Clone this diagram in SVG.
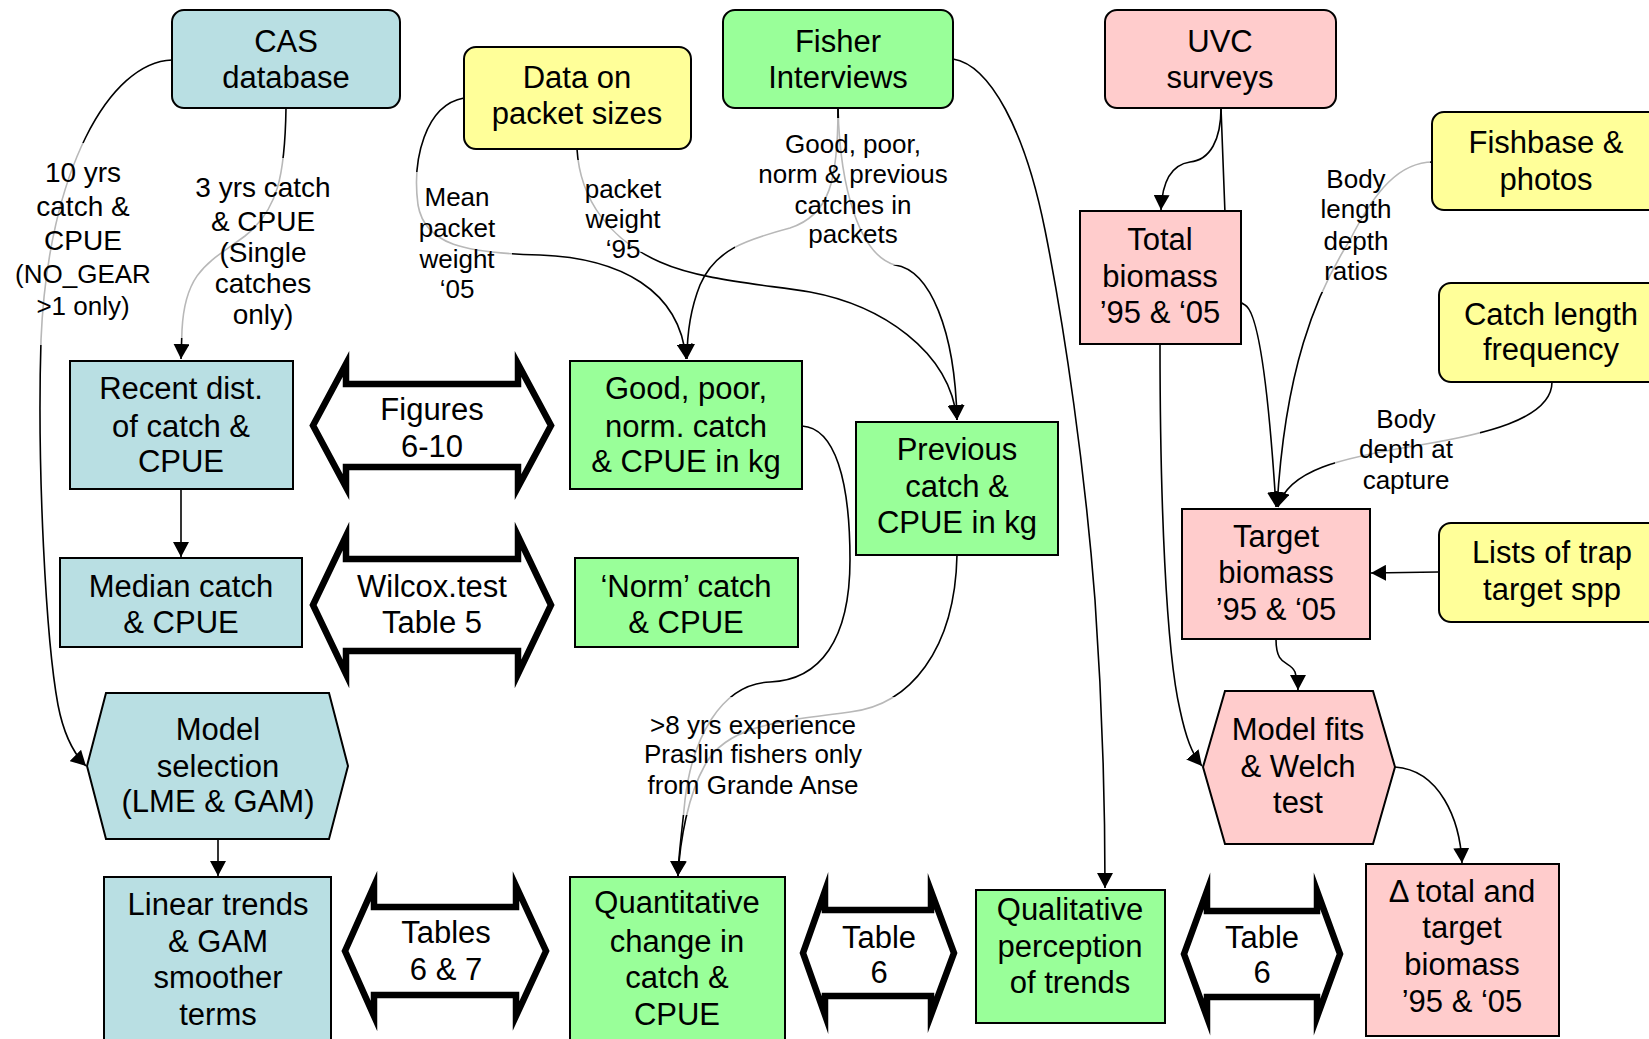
<svg xmlns="http://www.w3.org/2000/svg" width="1649" height="1039" viewBox="0 0 1649 1039">
<style>
text{font-family:"Liberation Sans",Arial,sans-serif;fill:#000;text-anchor:middle}
.nt{font-size:31px}
.lt{font-size:26px}
.lb{font-size:28px}
.blue{fill:#B9DFE3;stroke:#000;stroke-width:2}
.green{fill:#99FF99;stroke:#000;stroke-width:2}
.yellow{fill:#FFFF99;stroke:#000;stroke-width:2}
.pink{fill:#FFCCCC;stroke:#000;stroke-width:2}
.con{fill:none;stroke:#000;stroke-width:1.6}
.arr{marker-end:url(#ah)}
.dbl{fill:#fff;stroke:#000;stroke-width:6.5;stroke-linejoin:miter;stroke-miterlimit:10}
.lbg{fill:#fff;fill-opacity:0.72;stroke:none}
</style>
<defs>
<marker id="ah" markerUnits="userSpaceOnUse" markerWidth="16" markerHeight="16" refX="15" refY="8" orient="auto">
<path d="M0,0 L15,8 L0,16 z" fill="#000"/>
</marker>
</defs>
<rect x="0" y="0" width="1649" height="1039" fill="#fff"/>

<g id="connectors">
<path class="con arr" d="M172,60 C110,62 48,170 41,340 C37,470 46,640 58,705 C64,736 74,754 86,766"/>
<path class="con arr" d="M286,108 C285,175 278,210 245,236 C210,262 185,270 182,330 L181,359"/>
<path class="con arr" d="M181,489 L181,557"/>
<path class="con arr" d="M218,839 L218,876"/>
<path class="con arr" d="M464,98 C425,105 412,160 418,205 C425,245 465,253 540,255 C620,258 680,290 686,359"/>
<path class="con arr" d="M577,149 C580,200 610,240 660,262 C700,280 760,284 810,292 C880,305 950,350 957,420"/>
<path class="con arr" d="M838,108 C838,180 830,215 790,228 C745,240 715,250 700,285 C690,310 687,335 687,359"/>
<path class="con arr" d="M838,108 C840,190 860,255 895,265 C930,270 955,330 957,420"/>
<path class="con arr" d="M802,426 C835,428 850,480 850,560 C850,640 820,680 770,682 C720,684 692,740 685,800 C681,840 678,860 678,876"/>
<path class="con arr" d="M957,555 C955,650 910,705 850,712 C770,722 725,728 705,765 C688,795 680,840 678,876"/>
<path class="con arr" d="M953,59 C990,65 1025,130 1045,230 C1065,330 1085,470 1095,600 C1102,700 1105,800 1105,888"/>
<path class="con arr" d="M1221,108 C1221,140 1210,160 1190,162 C1170,165 1162,185 1161,210"/>
<path class="con arr" d="M1221,108 L1226,240 C1228,290 1238,302 1245,305 C1258,312 1268,380 1276,507"/>
<path class="con arr" d="M1433,162 C1400,162 1375,190 1350,240 C1315,295 1285,370 1277,507"/>
<path class="con arr" d="M1552,382 C1552,420 1480,435 1420,445 C1340,458 1288,470 1278,507"/>
<path class="con arr" d="M1438,572 L1371,573"/>
<path class="con arr" d="M1276,639 C1276,668 1290,660 1295,672 C1297,678 1298,684 1298,690"/>
<path class="con arr" d="M1160,344 C1160,500 1166,650 1180,710 C1186,738 1192,754 1202,766"/>
<path class="con arr" d="M1395,767 C1440,770 1460,820 1462,863"/>
</g>

<g id="labels">
<rect class="lbg" x="5" y="143" width="158" height="202"/>
<text class="lb"><tspan x="83" y="182">10 yrs</tspan><tspan x="83" y="216">catch &amp;</tspan><tspan x="83" y="250">CPUE</tspan></text>
<text class="lt"><tspan x="83" y="283">(NO_GEAR</tspan><tspan x="83" y="315">&gt;1 only)</tspan></text>
<rect class="lbg" x="178" y="158" width="170" height="180"/>
<text class="lb"><tspan x="263" y="197">3 yrs catch</tspan><tspan x="263" y="231">&amp; CPUE</tspan><tspan x="263" y="262">(Single</tspan><tspan x="263" y="293">catches</tspan><tspan x="263" y="324">only)</tspan></text>
<rect class="lbg" x="400" y="172" width="112" height="128"/>
<text class="lt"><tspan x="457" y="206">Mean</tspan><tspan x="457" y="237">packet</tspan><tspan x="457" y="268">weight</tspan><tspan x="457" y="298">‘05</tspan></text>
<rect class="lbg" x="570" y="160" width="120" height="92"/>
<text class="lt"><tspan x="623" y="198">packet</tspan><tspan x="623" y="228">weight</tspan><tspan x="623" y="258">‘95</tspan></text>
<rect class="lbg" x="735" y="118" width="165" height="147"/>
<text class="lt"><tspan x="853" y="153">Good, poor,</tspan><tspan x="853" y="183">norm &amp; previous</tspan><tspan x="853" y="214">catches in</tspan><tspan x="853" y="243">packets</tspan></text>
<rect class="lbg" x="1310" y="160" width="120" height="132"/>
<text class="lt"><tspan x="1356" y="188">Body</tspan><tspan x="1356" y="218">length</tspan><tspan x="1356" y="250">depth</tspan><tspan x="1356" y="280">ratios</tspan></text>
<rect class="lbg" x="1335" y="408" width="145" height="92"/>
<text class="lt"><tspan x="1406" y="428">Body</tspan><tspan x="1406" y="458">depth at</tspan><tspan x="1406" y="489">capture</tspan></text>
<rect class="lbg" x="630" y="697" width="270" height="118"/>
<text class="lt"><tspan x="753" y="734">&gt;8 yrs experience</tspan><tspan x="753" y="763">Praslin fishers only</tspan><tspan x="753" y="794">from Grande Anse</tspan></text>
</g>

<g id="cas"><rect class="blue" x="172" y="10" width="228" height="98" rx="12"/><text class="nt"><tspan x="286" y="52">CAS</tspan><tspan x="286" y="88">database</tspan></text></g>
<g id="packets"><rect class="yellow" x="464" y="47" width="227" height="102" rx="12"/><text class="nt"><tspan x="577" y="88">Data on</tspan><tspan x="577" y="124">packet sizes</tspan></text></g>
<g id="fisher"><rect class="green" x="723" y="10" width="230" height="98" rx="12"/><text class="nt"><tspan x="838" y="52">Fisher</tspan><tspan x="838" y="88">Interviews</tspan></text></g>
<g id="uvc"><rect class="pink" x="1105" y="10" width="231" height="98" rx="12"/><text class="nt"><tspan x="1220" y="52">UVC</tspan><tspan x="1220" y="88">surveys</tspan></text></g>
<g id="fishbase"><rect class="yellow" x="1432" y="112" width="240" height="98" rx="12"/><text class="nt"><tspan x="1546" y="153">Fishbase &amp;</tspan><tspan x="1546" y="190">photos</tspan></text></g>
<g id="catchlength"><rect class="yellow" x="1439" y="283" width="240" height="99" rx="12"/><text class="nt"><tspan x="1551" y="325">Catch length</tspan><tspan x="1551" y="360">frequency</tspan></text></g>
<g id="totalbiomass"><rect class="pink" x="1080" y="211" width="161" height="133"/><text class="nt"><tspan x="1160" y="250">Total</tspan><tspan x="1160" y="287">biomass</tspan><tspan x="1160" y="323">’95 &amp; ‘05</tspan></text></g>
<g id="recent"><rect class="blue" x="70" y="361" width="223" height="128"/><text class="nt"><tspan x="181" y="399">Recent dist.</tspan><tspan x="181" y="437">of catch &amp;</tspan><tspan x="181" y="472">CPUE</tspan></text></g>
<g id="median"><rect class="blue" x="60" y="558" width="242" height="89"/><text class="nt"><tspan x="181" y="597">Median catch</tspan><tspan x="181" y="633">&amp; CPUE</tspan></text></g>
<g id="modelsel"><polygon class="blue" points="106,693 329,693 348,766 329,839 106,839 87,766"/><text class="nt"><tspan x="218" y="740">Model</tspan><tspan x="218" y="777">selection</tspan><tspan x="218" y="812">(LME &amp; GAM)</tspan></text></g>
<g id="linear"><rect class="blue" x="104" y="877" width="227" height="175"/><text class="nt"><tspan x="218" y="915">Linear trends</tspan><tspan x="218" y="952">&amp; GAM</tspan><tspan x="218" y="988">smoother</tspan><tspan x="218" y="1025">terms</tspan></text></g>
<g id="goodpoor"><rect class="green" x="570" y="361" width="232" height="128"/><text class="nt"><tspan x="686" y="399">Good, poor,</tspan><tspan x="686" y="437">norm. catch</tspan><tspan x="686" y="472">&amp; CPUE in kg</tspan></text></g>
<g id="normcatch"><rect class="green" x="575" y="558" width="223" height="89"/><text class="nt"><tspan x="686" y="597">‘Norm’ catch</tspan><tspan x="686" y="633">&amp; CPUE</tspan></text></g>
<g id="previous"><rect class="green" x="856" y="422" width="202" height="133"/><text class="nt"><tspan x="957" y="460">Previous</tspan><tspan x="957" y="497">catch &amp;</tspan><tspan x="957" y="533">CPUE in kg</tspan></text></g>
<g id="target"><rect class="pink" x="1182" y="509" width="188" height="130"/><text class="nt"><tspan x="1276" y="547">Target</tspan><tspan x="1276" y="583">biomass</tspan><tspan x="1276" y="620">’95 &amp; ‘05</tspan></text></g>
<g id="lists"><rect class="yellow" x="1439" y="523" width="240" height="99" rx="12"/><text class="nt"><tspan x="1552" y="563">Lists of trap</tspan><tspan x="1552" y="600">target spp</tspan></text></g>
<g id="modelfits"><polygon class="pink" points="1225,691 1373,691 1395,767 1373,844 1225,844 1203,767"/><text class="nt"><tspan x="1298" y="740">Model fits</tspan><tspan x="1298" y="777">&amp; Welch</tspan><tspan x="1298" y="813">test</tspan></text></g>
<g id="delta"><rect class="pink" x="1366" y="864" width="193" height="172"/><text class="nt"><tspan x="1462" y="902">Δ total and</tspan><tspan x="1462" y="938">target</tspan><tspan x="1462" y="975">biomass</tspan><tspan x="1462" y="1012">’95 &amp; ‘05</tspan></text></g>
<g id="quantitative"><rect class="green" x="570" y="877" width="215" height="175"/><text class="nt"><tspan x="677" y="913">Quantitative</tspan><tspan x="677" y="952">change in</tspan><tspan x="677" y="988">catch &amp;</tspan><tspan x="677" y="1025">CPUE</tspan></text></g>
<g id="qualitative"><rect class="green" x="976" y="890" width="189" height="133"/><text class="nt"><tspan x="1070" y="920">Qualitative</tspan><tspan x="1070" y="957">perception</tspan><tspan x="1070" y="993">of trends</tspan></text></g>

<g id="figures"><polygon class="dbl" points="313,425.5 346,364 346,384 518,384 518,364 551,425.5 518,487 518,467 346,467 346,487"/><text class="nt"><tspan x="432" y="420">Figures</tspan><tspan x="432" y="457">6-10</tspan></text></g>
<g id="wilcox"><polygon class="dbl" points="313,605 346,536 346,559 518,559 518,536 551,605 518,674 518,651 346,651 346,674"/><text class="nt"><tspan x="432" y="597">Wilcox.test</tspan><tspan x="432" y="633">Table 5</tspan></text></g>
<g id="tables67"><polygon class="dbl" points="345,951 374,886 374,907 516,907 516,886 546,951 516,1016 516,995 374,995 374,1016"/><text class="nt"><tspan x="446" y="943">Tables</tspan><tspan x="446" y="980">6 &amp; 7</tspan></text></g>
<g id="table6a"><polygon class="dbl" points="803,953 825,891 825,910 931,910 931,891 954,953 931,1015 931,996 825,996 825,1015"/><text class="nt"><tspan x="879" y="948">Table</tspan><tspan x="879" y="983">6</tspan></text></g>
<g id="table6b"><polygon class="dbl" points="1184,954 1207,891 1207,911 1317,911 1317,891 1340,954 1317,1017 1317,997 1207,997 1207,1017"/><text class="nt"><tspan x="1262" y="948">Table</tspan><tspan x="1262" y="983">6</tspan></text></g>
</svg>
